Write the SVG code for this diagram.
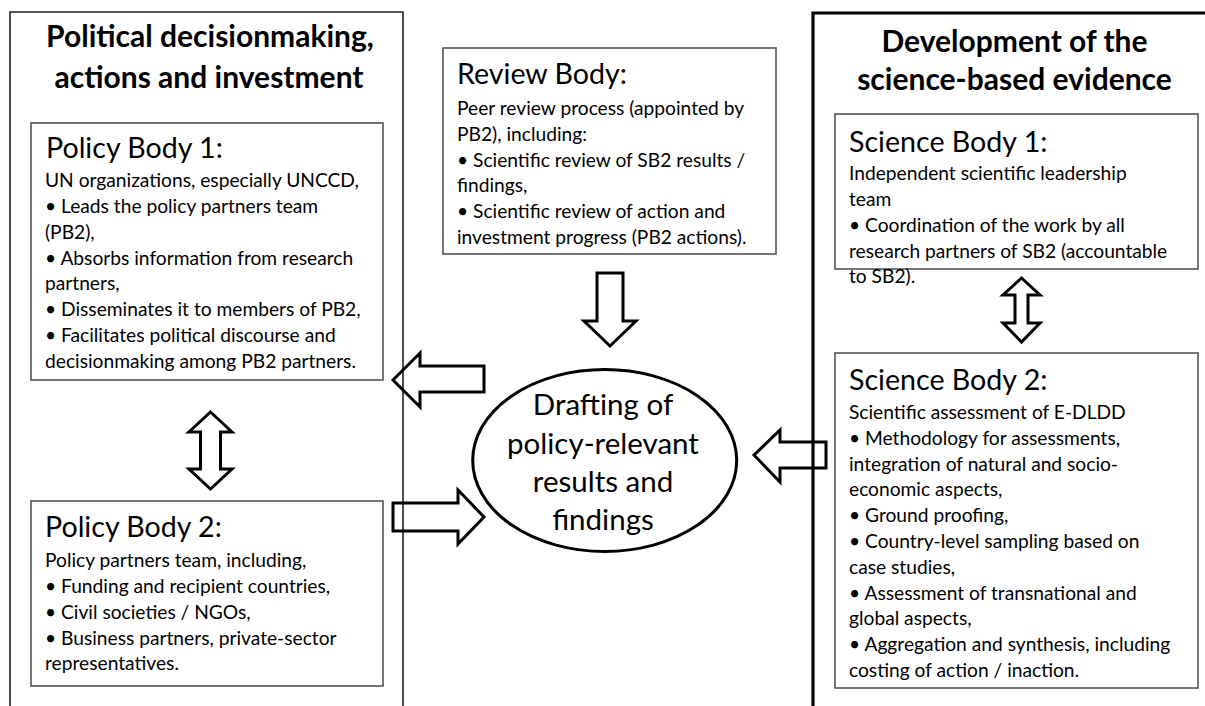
<svg xmlns="http://www.w3.org/2000/svg" width="1205" height="706" viewBox="0 0 1205 706">
<style>
.panelL{fill:none;stroke:#222;stroke-width:1.6}
.panelR{fill:none;stroke:#000;stroke-width:3.2}
.box{fill:#fff;stroke:#555;stroke-width:1.6}
.arrow{fill:none;stroke:#000;stroke-width:3;stroke-linejoin:miter}
.title{font-family:Lato,"Liberation Sans",sans-serif;font-weight:bold;font-size:30px;fill:#000;text-anchor:middle}
.head{font-family:Lato,"Liberation Sans",sans-serif;font-size:28.6px;fill:#000}
.body{font-family:Lato,"Liberation Sans",sans-serif;font-size:19.2px;fill:#000}
.ell{font-family:Lato,"Liberation Sans",sans-serif;font-size:29.5px;fill:#000;text-anchor:middle}
</style>
<rect width="1205" height="706" fill="#fff"/>
<g id="panel-left">
<path class="panelL" d="M10,712 V12 H403 V712"/>
<text class="title" x="210" y="47">Political decisionmaking,</text>
<text class="title" x="209" y="88">actions and investment</text>
</g>
<g id="panel-right">
<path class="panelR" d="M813,712 V13 H1212"/>
<text class="title" x="1014.5" y="52">Development of the</text>
<text class="title" x="1014.5" y="90">science-based evidence</text>
</g>
<g id="policy-body-1">
<rect class="box" x="31" y="123" width="352" height="257"/>
<text class="head" x="46" y="158">Policy Body 1:</text>
<text class="body" x="45" y="187">UN organizations, especially UNCCD,</text>
<text class="body" x="45" y="212.5">• Leads the policy partners team</text>
<text class="body" x="45" y="238.5">(PB2),</text>
<text class="body" x="45" y="264.5">• Absorbs information from research</text>
<text class="body" x="45" y="290">partners,</text>
<text class="body" x="45" y="316">• Disseminates it to members of PB2,</text>
<text class="body" x="45" y="342">• Facilitates political discourse and</text>
<text class="body" x="45" y="367.5">decisionmaking among PB2 partners.</text>
</g>
<g id="policy-body-2">
<rect class="box" x="31" y="501" width="352" height="185"/>
<text class="head" x="45" y="536.5">Policy Body 2:</text>
<text class="body" x="45" y="566.5">Policy partners team, including,</text>
<text class="body" x="45" y="592.5">• Funding and recipient countries,</text>
<text class="body" x="45" y="618.5">• Civil societies / NGOs,</text>
<text class="body" x="45" y="644.5">• Business partners, private-sector</text>
<text class="body" x="45" y="670">representatives.</text>
</g>
<g id="review-body">
<rect class="box" x="443" y="48" width="333" height="206"/>
<text class="head" x="457" y="84">Review Body:</text>
<text class="body" x="457" y="115">Peer review process (appointed by</text>
<text class="body" x="457" y="140.5">PB2), including:</text>
<text class="body" x="457" y="166.5">• Scientific review of SB2 results /</text>
<text class="body" x="457" y="192">findings,</text>
<text class="body" x="457" y="218">• Scientific review of action and</text>
<text class="body" x="457" y="243.5">investment progress (PB2 actions).</text>
</g>
<g id="science-body-1">
<rect class="box" x="835" y="114" width="363" height="155"/>
<text class="head" x="849" y="152">Science Body 1:</text>
<text class="body" x="849" y="180">Independent scientific leadership</text>
<text class="body" x="849" y="205.5">team</text>
<text class="body" x="849" y="231.5">• Coordination of the work by all</text>
<text class="body" x="849" y="257.5">research partners of SB2 (accountable</text>
<text class="body" x="849" y="283">to SB2).</text>
</g>
<g id="science-body-2">
<rect class="box" x="835" y="353" width="363" height="335"/>
<text class="head" x="849" y="390">Science Body 2:</text>
<text class="body" x="849" y="419">Scientific assessment of E-DLDD</text>
<text class="body" x="849" y="444.5">• Methodology for assessments,</text>
<text class="body" x="849" y="470.5">integration of natural and socio-</text>
<text class="body" x="849" y="496">economic aspects,</text>
<text class="body" x="849" y="522">• Ground proofing,</text>
<text class="body" x="849" y="548">• Country-level sampling based on</text>
<text class="body" x="849" y="573.5">case studies,</text>
<text class="body" x="849" y="599.5">• Assessment of transnational and</text>
<text class="body" x="849" y="625">global aspects,</text>
<text class="body" x="849" y="651">• Aggregation and synthesis, including</text>
<text class="body" x="849" y="676.5">costing of action / inaction.</text>
</g>
<g id="drafting">
<ellipse cx="604.7" cy="460.5" rx="132" ry="91" fill="#fff" stroke="#000" stroke-width="3"/>
<text class="ell" x="603" y="415">Drafting of</text>
<text class="ell" x="603" y="453.5">policy-relevant</text>
<text class="ell" x="603" y="491.5">results and</text>
<text class="ell" x="603" y="530">findings</text>
</g>
<g id="connectors">
<polygon class="arrow" points="393,380 420,353 420,366 484,366 484,392 420,392 420,407"/>
<polygon class="arrow" points="393,503 458,503 458,490 484,517 458,544 458,531 393,531"/>
<polygon class="arrow" points="754,455 780,430 780,442 826,442 826,468 780,468 780,482"/>
<polygon class="arrow" points="597,273 623,273 623,321 636,321 610,346 584,321 597,321"/>
<polygon class="arrow" points="210.5,412 232,432 220.5,432 220.5,469 232,469 210.5,489 189,469 200.5,469 200.5,432 189,432"/>
<polygon class="arrow" points="1021.5,278 1040,295 1028,295 1028,323 1040,323 1021.5,342 1003,323 1015,323 1015,295 1003,295"/>
</g>
</svg>
